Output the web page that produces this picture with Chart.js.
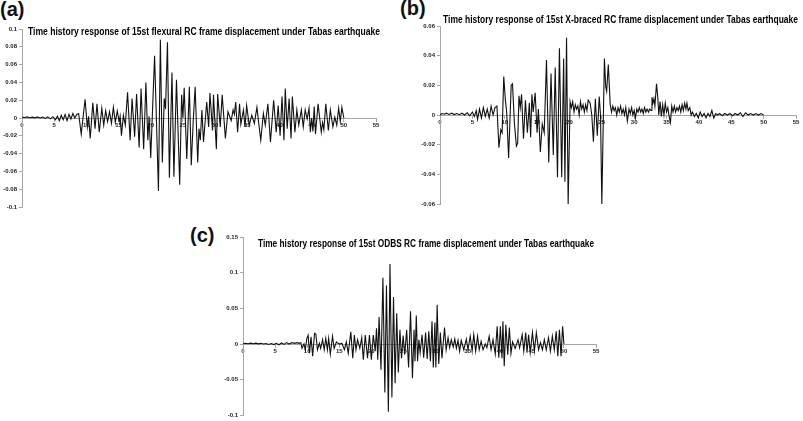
<!DOCTYPE html>
<html>
<head>
<meta charset="utf-8">
<script src="https://cdn.jsdelivr.net/npm/chart.js@4.4.1/dist/chart.umd.min.js"></script>
<style>
  body { margin: 0; background: #fff; width: 803px; height: 421px; position: relative; overflow: hidden; font-family: 'Liberation Sans', Arial, sans-serif; }
  canvas { position: absolute; }
  .tag { position: absolute; font-weight: bold; font-size: 20px; line-height: 20px; color: #111; }
</style>
</head>
<body>
<div class="tag" style="left:0px;top:-1px">(a)</div>
<div class="tag" style="left:400px;top:-2px">(b)</div>
<div class="tag" style="left:190px;top:225px">(c)</div>
<canvas id="chartA" width="400" height="215" style="left:0px;top:0px"></canvas>
<canvas id="chartB" width="403" height="215" style="left:400px;top:0px"></canvas>
<canvas id="chartC" width="420" height="196" style="left:190px;top:225px"></canvas>
<script>
'use strict'

// time (s) axis labels, shared by the three panels
const timeTicks = [0, 5, 10, 15, 20, 25, 30, 35, 40, 45, 50, 55]

// (a) flexural frame
const titleA = 'Time history response of 15st flexural RC frame displacement under Tabas earthquake'
const yTicksA = [-0.1, -0.08, -0.06, -0.04, -0.02, 0, 0.02, 0.04, 0.06, 0.08, 0.1]
const timeA = [
  0, 0.4, 0.8, 1.2, 1.6, 2.0, 2.4, 2.8, 3.2, 3.6,
  4.0, 4.4, 4.8, 5.2, 5.5, 5.8, 6.1, 6.4, 6.7, 7.0,
  7.3, 7.6, 7.9, 8.2, 8.5, 8.8, 9.2, 9.8, 10.15, 10.35,
  10.6, 11.0, 11.35, 11.65, 12.0, 12.4, 12.7, 13.0, 13.3, 13.6,
  13.9, 14.2, 14.5, 14.8, 15.1, 15.25, 15.45, 15.75, 16.05, 16.4,
  16.8, 17.1, 17.5, 17.8, 18.2, 18.5, 18.9, 19.25, 19.55, 19.75,
  20.0, 20.6, 21.2, 21.5, 21.8, 22.1, 22.3, 22.6, 22.9, 23.3,
  23.6, 24.0, 24.5, 24.8, 25.0, 25.2, 25.6, 26.0, 26.3, 26.6,
  26.9, 27.3, 27.5, 27.7, 27.95, 28.2, 28.7, 29.0, 29.2, 29.6,
  29.75, 30.2, 30.4, 30.8, 31.1, 31.6, 32.0, 32.5, 32.8, 33.0,
  33.2, 33.5, 33.8, 34.0, 34.4, 34.65, 34.9, 35.3, 35.7, 36.1,
  36.5, 36.7, 37.1, 37.5, 37.8, 38.2, 38.6, 39.1, 39.5, 39.8,
  40.1, 40.4, 40.7, 40.9, 41.2, 41.5, 41.8, 42.0, 42.4, 42.7,
  43.0, 43.4, 43.7, 44.0, 44.3, 44.6, 44.8, 45.0, 45.2, 45.4,
  45.6, 46.0, 46.5, 46.7, 46.9, 47.2, 47.6, 47.9, 48.3, 48.6,
  48.9, 49.2, 49.45, 49.7, 50.0
]
const dispA = [
  0.001, 0.0005, 0.0012, 0.0003, 0.001, 0.0002, 0.0012, 0, 0.001, -0.0005,
  0.0012, -0.001, 0.0015, -0.002, 0.002, -0.003, 0.003, -0.002, 0.004, -0.003,
  0.004, -0.001, 0.005, 0, 0.004, 0.005, -0.018, 0.021, -0.01, 0.002,
  -0.023, 0.017, -0.012, 0.016, -0.016, 0.011, -0.008, 0.008, -0.004, 0.007,
  -0.006, 0.012, -0.005, 0.008, -0.004, 0.002, -0.02, 0.003, -0.008, 0.029,
  -0.025, 0.022, -0.021, 0.027, -0.033, 0.033, -0.035, 0.04, -0.025, 0.002,
  -0.045, 0.07, -0.082, 0.088, -0.05, 0.022, 0.01, 0.085, -0.067, 0.051,
  -0.066, 0.043, -0.075, 0.026, 0, 0.034, -0.046, 0.035, -0.053, -0.004,
  0.035, -0.05, -0.012, -0.025, 0.009, -0.027, 0.018, -0.01, 0.028, -0.014,
  0.026, -0.035, 0.027, -0.01, 0.026, -0.023, 0.007, -0.003, 0.009, 0.004,
  0.018, -0.016, 0.016, -0.007, 0.009, -0.01, 0.014, -0.008, 0.003, -0.006,
  0.012, -0.001, -0.025, 0.005, -0.008, 0.016, -0.027, 0.02, -0.016, 0.014,
  -0.02, 0.024, -0.025, 0.033, -0.012, 0.022, -0.023, 0.024, -0.016, 0.009,
  -0.008, 0.009, -0.01, 0.009, -0.001, 0.011, -0.016, 0, -0.015, 0.013,
  -0.018, 0.016, -0.016, -0.005, -0.013, 0.016, -0.014, 0.009, -0.01, 0.001,
  -0.008, 0.011, -0.004, 0.012, 0
]

// (b) X-braced frame
const titleB = 'Time history response of 15st X-braced RC frame displacement under Tabas earthquake'
const yTicksB = [-0.06, -0.04, -0.02, 0, 0.02, 0.04, 0.06]
const timeB = [
  0, 0.3, 0.7, 1.0, 1.4, 1.8, 2.2, 2.6, 3.0, 3.4,
  3.8, 4.2, 4.6, 5.0, 5.3, 5.6, 5.8, 6.1, 6.4, 6.7,
  7.0, 7.3, 7.6, 7.9, 8.2, 8.5, 8.8, 9.1, 9.4, 9.6,
  9.85, 10.1, 10.3, 10.6, 11.0, 11.2, 11.5, 11.8, 12.0, 12.2,
  12.4, 12.6, 12.9, 13.2, 13.5, 13.8, 14.0, 14.2, 14.4, 14.7,
  15.0, 15.2, 15.5, 15.8, 16.1, 16.45, 16.8, 17.15, 17.5, 17.8,
  18.15, 18.45, 18.8, 19.1, 19.3, 19.55, 19.8, 20.1, 20.3, 20.5,
  20.7, 20.9, 21.1, 21.3, 21.5, 21.7, 21.9, 22.1, 22.3, 22.5,
  22.7, 22.9, 23.2, 23.45, 23.7, 24.0, 24.3, 24.6, 24.8, 25.0,
  25.4, 25.6, 25.75, 26.0, 26.3, 26.5, 26.7, 26.9, 27.1, 27.3,
  27.5, 27.7, 27.9, 28.1, 28.3, 28.5, 28.7, 28.95, 29.2, 29.4,
  29.6, 29.8, 30.0, 30.2, 30.4, 30.6, 30.8, 31.0, 31.2, 31.4,
  31.6, 31.8, 32.0, 32.2, 32.4, 32.6, 32.75, 32.9, 33.05, 33.2,
  33.45, 33.65, 33.8, 34.0, 34.2, 34.4, 34.6, 34.8, 35.0, 35.2,
  35.4, 35.6, 35.8, 36.0, 36.2, 36.4, 36.6, 36.8, 37.0, 37.2,
  37.4, 37.6, 37.8, 38.0, 38.15, 38.35, 38.6, 38.8, 39.0, 39.3,
  39.6, 39.9, 40.2, 40.5, 40.8, 41.1, 41.4, 41.7, 42.0, 42.3,
  42.6, 42.9, 43.2, 43.6, 44.0, 44.4, 44.8, 45.2, 45.6, 46.0,
  46.4, 46.8, 47.2, 47.6, 48.0, 48.4, 48.8, 49.2, 49.6, 50.0
]
const dispB = [
  0, 0.001, 0.0005, 0.0012, 0.0004, 0.0012, 0.0003, 0.001, 0.0002, 0.0012,
  0, 0.0015, -0.0005, 0.002, -0.001, 0.003, -0.003, 0.004, -0.002, 0.005,
  -0.001, 0.004, -0.002, 0.006, 0, 0.005, 0.006, -0.022, -0.01, -0.012,
  0.026, 0.01, 0.002, -0.029, 0.02, 0.021, -0.006, -0.021, -0.019, 0.013,
  0.005, 0.014, -0.016, 0.01, -0.012, 0.008, -0.015, 0.014, 0.002, 0.015,
  -0.012, 0.004, -0.025, -0.006, -0.012, 0.037, -0.032, 0.028, -0.027, 0.032,
  -0.042, 0.045, -0.042, 0.038, -0.045, 0.052, -0.06, 0.009, 0.005, 0.009,
  0.002, 0.007, 0.004, 0.006, 0, 0.009, 0.004, 0.007, 0.002, 0.007,
  0.003, 0.01, 0.008, 0, -0.018, 0.011, -0.014, 0.0125, 0, -0.06,
  0.038, 0.019, 0.016, 0.034, 0.007, 0.002, 0.006, 0.003, 0.005, 0,
  0.005, 0.002, 0.006, 0.001, 0.004, 0, 0.005, -0.004, 0.004, 0.001,
  0.005, 0, 0.003, -0.002, 0.004, 0.002, 0.005, 0.002, 0.004, 0.001,
  0.005, 0.002, 0.004, 0.002, 0.004, 0.003, 0.012, 0.008, 0.011, 0.006,
  0.021, 0.012, 0, 0.009, -0.001, 0.007, 0, 0.008, 0.002, 0.005,
  -0.001, -0.005, 0.006, 0.002, 0.006, 0.002, 0.005, 0.003, 0.006, 0.002,
  0.007, 0.003, 0.008, 0.004, 0.008, 0.003, 0.005, 0, 0.002, -0.001,
  0.001, -0.002, 0.002, -0.001, 0.001, -0.002, 0.001, -0.001, 0.003, -0.002,
  0.001, 0, 0.001, -0.0005, 0.001, 0, 0.001, -0.0005, 0.001, 0,
  0.0015, -0.001, 0.0015, 0, 0.001, 0, 0.001, 0, 0.001, 0
]

// (c) ODBS frame
const titleC = 'Time history response of 15st ODBS RC frame displacement under Tabas earthquake'
const yTicksC = [-0.1, -0.05, 0, 0.05, 0.1, 0.15]
const timeC = [
  0, 0.4, 0.8, 1.2, 1.6, 2.0, 2.4, 2.8, 3.2, 3.6,
  4.0, 4.4, 4.8, 5.2, 5.6, 6.0, 6.4, 6.8, 7.2, 7.6,
  8.0, 8.4, 8.7, 9.0, 9.2, 9.5, 9.7, 9.95, 10.15, 10.35,
  10.6, 10.85, 11.15, 11.35, 11.6, 11.9, 12.1, 12.4, 12.65, 12.9,
  13.15, 13.35, 13.6, 13.95, 14.2, 14.55, 14.8, 15.1, 15.4, 15.8,
  16.1, 16.4, 16.8, 17.1, 17.35, 17.6, 17.85, 18.2, 18.5, 18.75,
  19.05, 19.4, 19.7, 20.0, 20.3, 20.6, 20.8, 21.0, 21.2, 21.5,
  21.8, 22.1, 22.35, 22.65, 22.9, 23.2, 23.45, 23.7, 23.95, 24.2,
  24.45, 24.7, 24.95, 25.2, 25.5, 25.8, 26.1, 26.4, 26.65, 26.8,
  27.0, 27.2, 27.4, 27.6, 27.9, 28.15, 28.45, 28.7, 28.95, 29.2,
  29.45, 29.65, 29.9, 30.05, 30.25, 30.5, 30.75, 31.0, 31.4, 31.65,
  31.95, 32.2, 32.45, 32.75, 33.0, 33.25, 33.5, 33.75, 34.0, 34.4,
  34.8, 35.05, 35.4, 35.7, 35.95, 36.25, 36.55, 36.8, 37.1, 37.4,
  37.75, 38.0, 38.35, 38.65, 38.95, 39.3, 39.6, 39.85, 40.1, 40.35,
  40.5, 40.7, 40.95, 41.25, 41.5, 41.75, 42.0, 42.4, 42.85, 43.1,
  43.5, 43.75, 44.05, 44.25, 44.5, 44.75, 45.1, 45.4, 45.7, 46.05,
  46.35, 46.65, 46.95, 47.25, 47.6, 47.9, 48.2, 48.5, 48.8, 49.05,
  49.3, 49.55, 49.8, 50.0
]
const dispC = [
  0.0005, 0.001, 0.0005, 0.0012, 0.0004, 0.0012, 0.0003, 0.001, 0, 0.0008,
  -0.0005, 0.0008, -0.0008, 0.001, -0.001, 0.0015, -0.0005, 0.002, 0, 0.002,
  0.001, 0.002, 0.001, 0.002, -0.006, 0, -0.008, 0.008, 0.0125, -0.013,
  0.01, -0.017, 0.015, 0.014, -0.008, 0.001, -0.006, 0.006, -0.008, 0.008,
  -0.008, 0.008, -0.014, 0.011, -0.006, 0.003, 0.001, 0, 0.001, -0.008,
  0.003, -0.013, 0.017, -0.02, 0.0125, -0.008, 0.006, -0.006, 0.009, -0.022,
  0.0125, -0.02, 0.0125, -0.022, 0.0125, -0.01, 0.022, -0.022, 0.038, -0.036,
  0.093, -0.068, 0.082, -0.095, 0.112, -0.075, 0.066, -0.055, 0.043, -0.04,
  0.02, -0.02, 0.012, -0.015, 0.02, -0.033, 0.046, -0.048, 0.02, -0.024,
  0.04, -0.024, 0.006, -0.012, 0.013, -0.019, 0.016, -0.021, 0.018, -0.024,
  0.032, -0.033, 0.03, -0.033, 0.055, -0.028, 0.016, -0.02, 0.023, -0.008,
  0.009, -0.005, 0.006, -0.004, 0.007, -0.006, 0.005, -0.01, 0.005, -0.008,
  0.007, -0.008, 0.011, -0.01, 0.013, -0.01, 0.011, -0.008, 0.004, -0.008,
  0, -0.005, 0.011, -0.008, 0.006, -0.014, 0.025, -0.019, 0.025, -0.02,
  0.032, -0.031, 0.027, -0.015, 0.023, -0.013, 0.003, -0.006, 0.006, -0.005,
  0.013, -0.01, 0.016, -0.012, 0.013, -0.012, 0.016, -0.01, 0.016, -0.008,
  0.002, -0.008, 0.006, -0.008, 0.009, -0.01, 0.011, -0.008, 0.018, -0.017,
  0.02, -0.017, 0.025, 0
]

const tickFont = { family: "'Liberation Sans', Arial, sans-serif", size: 6, weight: 'bold' }
const axisGrey = '#a6a6a6'

function fmt(v) {
  return String(parseFloat(v.toFixed(2)))
}

// title squeezed into the width it has in the picture (narrow bold face)
const panelTitle = {
  id: 'panelTitle',
  afterDraw(chart, args, opts) {
    const ctx = chart.ctx
    ctx.save()
    ctx.font = "bold 10px 'Liberation Sans', Arial, sans-serif"
    ctx.fillStyle = '#000'
    ctx.textAlign = 'left'
    ctx.textBaseline = 'middle'
    ctx.fillText(opts.text, opts.x, opts.y, opts.width)
    ctx.restore()
  }
}

function makePanel(id, times, disp, yTicks, yMin, yMax, yWidth, pad, title) {
  const points = times.map((t, i) => ({ x: t, y: disp[i] }))
  return new Chart(document.getElementById(id), {
    type: 'line',
    data: {
      datasets: [{
        data: points,
        borderColor: '#111',
        borderWidth: 1.1,
        pointRadius: 0,
        tension: 0,
        fill: false
      }]
    },
    options: {
      responsive: false,
      animation: false,
      layout: { padding: pad },
      plugins: {
        legend: { display: false },
        tooltip: { enabled: false },
        panelTitle: title
      },
      scales: {
        x: {
          type: 'linear',
          min: 0,
          max: 55,
          position: { y: 0 },
          afterBuildTicks: s => { s.ticks = timeTicks.map(v => ({ value: v })) },
          grid: { drawOnChartArea: false, tickLength: 3, color: axisGrey },
          border: { color: axisGrey, width: 1 },
          ticks: { font: tickFont, color: '#222', padding: 1, maxRotation: 0, autoSkip: false }
        },
        y: {
          min: yMin,
          max: yMax,
          afterBuildTicks: s => { s.ticks = yTicks.map(v => ({ value: v })) },
          afterFit: s => { s.width = yWidth },
          grid: { drawOnChartArea: false, tickLength: 3, color: axisGrey },
          border: { color: axisGrey, width: 1 },
          ticks: { font: tickFont, color: '#222', padding: 2, callback: v => fmt(v) }
        }
      }
    },
    plugins: [panelTitle]
  })
}

makePanel('chartA', timeA, dispA, yTicksA, -0.1, 0.1, 22,
  { left: 0, top: 29, right: 24, bottom: 8 },
  { text: titleA, x: 28, y: 32, width: 352 })

makePanel('chartB', timeB, dispB, yTicksB, -0.06, 0.06, 40,
  { left: 0, top: 26, right: 7, bottom: 11 },
  { text: titleB, x: 43, y: 20, width: 355 })

makePanel('chartC', timeC, dispC, yTicksC, -0.1, 0.15, 53,
  { left: 0, top: 12, right: 14, bottom: 4 },
  { text: titleC, x: 68, y: 19, width: 336 })
</script>
</body>
</html>
